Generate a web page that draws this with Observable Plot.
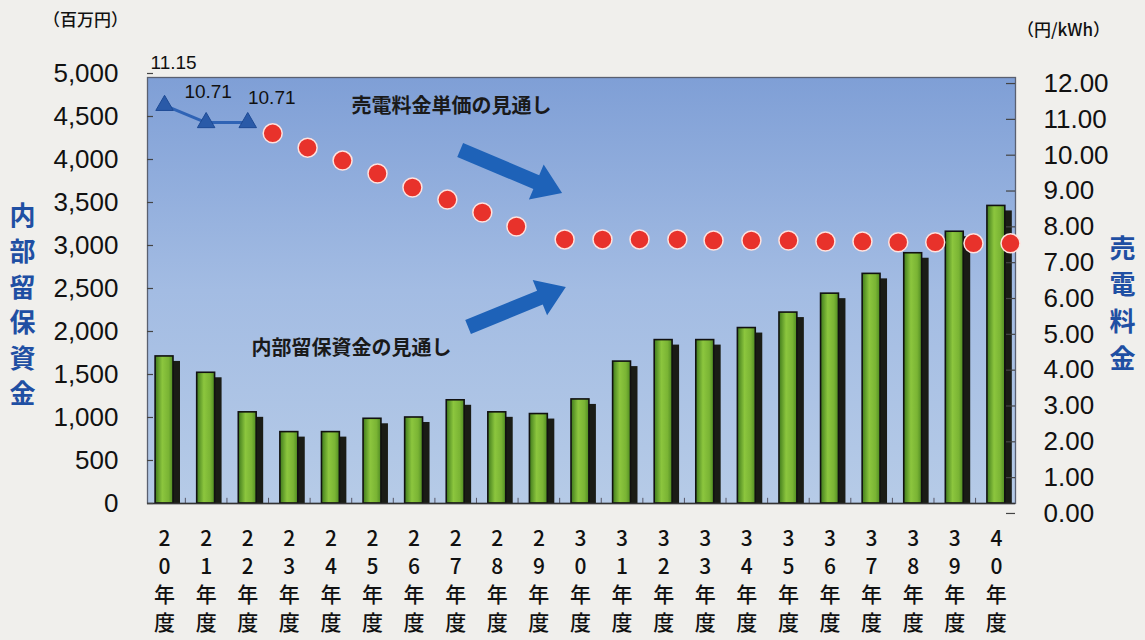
<!DOCTYPE html>
<html><head><meta charset="utf-8">
<script src="https://cdn.jsdelivr.net/npm/d3@7"></script>
<script src="https://cdn.jsdelivr.net/npm/@observablehq/plot@0.6"></script>
<style>
html,body{margin:0;padding:0;background:#f0efec;}
#chart svg{display:block;}
</style></head><body><div id="chart"></div>
<script>
// ---- data ----
const years = [20,21,22,23,24,25,26,27,28,29,30,31,32,33,34,35,36,37,38,39,40];
const xTickLabels = ["2\n0\n年\n度","2\n1\n年\n度","2\n2\n年\n度","2\n3\n年\n度","2\n4\n年\n度","2\n5\n年\n度","2\n6\n年\n度","2\n7\n年\n度","2\n8\n年\n度","2\n9\n年\n度","3\n0\n年\n度","3\n1\n年\n度","3\n2\n年\n度","3\n3\n年\n度","3\n4\n年\n度","3\n5\n年\n度","3\n6\n年\n度","3\n7\n年\n度","3\n8\n年\n度","3\n9\n年\n度","4\n0\n年\n度"];
const reserves = [1710,1520,1060,830,830,985,1000,1200,1060,1040,1210,1650,1900,1900,2040,2220,2440,2670,2910,3160,3460];
const actualYears = [20,21,22];
const actualRateLabels = ["11.15","10.71","10.71"];
const actualRatePos = [11.39,10.91,10.91];
const forecastX = [22.60,23.44,24.28,25.12,25.96,26.80,27.64,28.46,29.62,30.53,31.42,32.33,33.20,34.11,35.00,35.89,36.78,37.64,38.53,39.45,40.34];
const forecastRate = [10.61,10.21,9.85,9.49,9.10,8.76,8.40,8.01,7.65,7.65,7.65,7.65,7.62,7.62,7.62,7.59,7.59,7.57,7.57,7.54,7.54];
const leftTicks = [0,500,1000,1500,2000,2500,3000,3500,4000,4500,5000];
const rightTicks = [0,1,2,3,4,5,6,7,8,9,10,11,12];
const leftTitle = ["内","部","留","保","資","金"];
const rightTitle = ["売","電","料","金"];
const annotRate = "売電料金単価の見通し";
const annotReserve = "内部留保資金の見通し";
// arrows: [tailYear, tailValue, tipYear, tipValue] in left-axis units
const arrowDown = [27.12, 4105, 29.57, 3605];
const arrowUp = [27.31, 2047, 29.66, 2512];

// secondary axis mapping (円/kWh -> 百万円 units)
const rateToLeft = r => -116 + 416.6 * r;
const leftToRate = v => (v + 116) / 416.6;

const bars = years.map((y, i) => ({year: y, value: reserves[i]}));
const actual = actualYears.map((y, i) => ({year: y, pos: actualRatePos[i], label: actualRateLabels[i]}));
const forecast = forecastX.map((x, i) => ({x, rate: forecastRate[i]}));

const W = 1145, H = 640, mL = 147, mR = 130, mT = 73, mB = 126;
const plotW = W - mL - mR;
const bw = 0.215;
const numFont = "'Liberation Sans', Arial, 'Noto Sans CJK JP', sans-serif";
const cjkFont = "'Noto Sans CJK JP', sans-serif";

const chart = Plot.plot({
  width: W, height: H,
  marginLeft: mL, marginRight: mR, marginTop: mT, marginBottom: mB,
  style: {background: "transparent", fontFamily: numFont, color: "#111", overflow: "visible"},
  x: {type: "linear", domain: [19.59, 40.46]},
  y: {type: "linear", domain: [-128, 5000]},
  marks: [
    Plot.frame({fill: "url(#bgGrad)", stroke: "#5a6070", strokeWidth: 1.3, insetTop: 4, insetBottom: 11}),
    Plot.ruleX(years.slice(0, -1).map(y => y + 0.5), {y1: 0, y2: 60, stroke: "#556", strokeWidth: 1}),
    Plot.rectY(bars, {x1: d => d.year - bw, x2: d => d.year + bw, y: "value", dx: 7, insetTop: 5, fill: "#1a1c16"}),
    Plot.rectY(bars, {x1: d => d.year - bw, x2: d => d.year + bw, y: "value", fill: "url(#barGrad)", stroke: "#111", strokeWidth: 1.6}),
    Plot.ruleY([0], {stroke: "#333", strokeWidth: 1.5}),
    Plot.tickY(leftTicks, {insetRight: plotW - 6, stroke: "#444", strokeWidth: 1.2}),
    Plot.tickY(rightTicks.map(rateToLeft), {insetLeft: plotW - 9, stroke: "#444", strokeWidth: 1.2}),
    Plot.axisY(leftTicks, {anchor: "left", label: null, tickSize: 0, tickPadding: 29, tickFormat: d3.format(","), fontSize: 26, fill: "#111"}),
    Plot.axisY(rightTicks.map(rateToLeft), {anchor: "right", label: null, tickSize: 0, tickPadding: 28, tickFormat: d => leftToRate(d).toFixed(2), fontSize: 26, fill: "#111"}),
    Plot.axisX(years, {anchor: "bottom", label: null, tickSize: 0, tickPadding: 12, tickFormat: d => xTickLabels[years.indexOf(d)], fontSize: 21, lineHeight: 1.33, fontFamily: cjkFont, fontWeight: 500, fill: "#111"}),
    Plot.line(actual, {x: "year", y: d => rateToLeft(d.pos), stroke: "#2f63b5", strokeWidth: 3}),
    Plot.dot(actual, {x: "year", y: d => rateToLeft(d.pos), symbol: "triangle", r: 6.5, fill: "#2a5aa8", stroke: "#1d4a94", strokeWidth: 1}),
    Plot.dot(forecast, {x: "x", y: d => rateToLeft(d.rate), r: 9.5, fill: "#e8322b", stroke: "#ffe2de", strokeWidth: 1.5}),
    Plot.text([actual[0]], {x: "year", y: d => rateToLeft(d.pos), text: "label", dx: 9, dy: -42, fontSize: 19, fill: "#111"}),
    Plot.text([actual[1]], {x: "year", y: d => rateToLeft(d.pos), text: "label", dx: 2, dy: -31, fontSize: 19, fill: "#111"}),
    Plot.text([actual[2]], {x: "year", y: d => rateToLeft(d.pos), text: "label", dx: 24, dy: -25, fontSize: 19, fill: "#111"}),
    Plot.text([leftTitle.join("\n")], {text: d => d, frameAnchor: "left", textAnchor: "middle", lineAnchor: "middle", dx: -125, dy: 9, fontSize: 26, lineHeight: 1.37, fill: "#1f4fa3", fontFamily: cjkFont, fontWeight: "bold"}),
    Plot.text([rightTitle.join("\n")], {text: d => d, frameAnchor: "right", textAnchor: "middle", lineAnchor: "middle", dx: 107, dy: 7, fontSize: 26, lineHeight: 1.41, fill: "#1f4fa3", fontFamily: cjkFont, fontWeight: "bold"}),
    Plot.text(["（百万円）"], {text: d => d, frameAnchor: "top-left", textAnchor: "middle", lineAnchor: "middle", dx: -62, dy: -53, fontSize: 17, fill: "#111", fontFamily: cjkFont, fontWeight: 500}),
    Plot.text(["（円/kWh）"], {text: d => d, frameAnchor: "top-right", textAnchor: "middle", lineAnchor: "middle", dx: 48, dy: -43, fontSize: 17, fill: "#111", fontFamily: cjkFont, fontWeight: 500}),
    Plot.text([annotRate], {text: d => d, frameAnchor: "top-left", textAnchor: "middle", lineAnchor: "middle", dx: 304, dy: 33, fontSize: 20, fill: "#1a1a1a", fontFamily: cjkFont, fontWeight: "bold"}),
    Plot.text([annotReserve], {text: d => d, frameAnchor: "top-left", textAnchor: "middle", lineAnchor: "middle", dx: 204, dy: 275, fontSize: 20, fill: "#1a1a1a", fontFamily: cjkFont, fontWeight: "bold"})
  ]
});

// gradients
const svg = d3.select(chart);
const defs = svg.insert("defs", ":first-child");
const bg = defs.append("linearGradient").attr("id", "bgGrad").attr("x1", 0).attr("y1", 0).attr("x2", 0).attr("y2", 1);
bg.append("stop").attr("offset", "0%").attr("stop-color", "#7f9fd6");
bg.append("stop").attr("offset", "50%").attr("stop-color", "#a3bce3");
bg.append("stop").attr("offset", "100%").attr("stop-color", "#b6cbe7");
const bgr = defs.append("linearGradient").attr("id", "barGrad").attr("x1", 0).attr("y1", 0).attr("x2", 1).attr("y2", 0);
bgr.append("stop").attr("offset", "0%").attr("stop-color", "#3f7a1c");
bgr.append("stop").attr("offset", "40%").attr("stop-color", "#8cc63e");
bgr.append("stop").attr("offset", "75%").attr("stop-color", "#7ab434");
bgr.append("stop").attr("offset", "100%").attr("stop-color", "#4f8b22");

// fat arrows (annotation) placed through the plot's scales
const sx = chart.scale("x"), sy = chart.scale("y");
const X = d3.scaleLinear(sx.domain, sx.range), Y = d3.scaleLinear(sy.domain, sy.range);
function fatArrow([x0, y0, x1, y1]) {
  const ax = X(x0), ay = Y(y0), bx = X(x1), by = Y(y1);
  const dx = bx - ax, dy = by - ay, len = Math.hypot(dx, dy);
  const ux = dx / len, uy = dy / len, nx = -uy, ny = ux;
  const shaft = 7.5, head = 19, hl = 28;
  const cx = bx - ux * hl, cy = by - uy * hl;
  const pts = [
    [ax + nx * shaft, ay + ny * shaft], [cx + nx * shaft, cy + ny * shaft], [cx + nx * head, cy + ny * head],
    [bx, by], [cx - nx * head, cy - ny * head], [cx - nx * shaft, cy - ny * shaft], [ax - nx * shaft, ay - ny * shaft]
  ];
  return "M" + pts.map(p => p.join(",")).join("L") + "Z";
}
const ag = svg.append("g").attr("fill", "#1e62b8");
ag.append("path").attr("d", fatArrow(arrowDown));
ag.append("path").attr("d", fatArrow(arrowUp));

document.getElementById("chart").appendChild(chart);
</script>
</body></html>
